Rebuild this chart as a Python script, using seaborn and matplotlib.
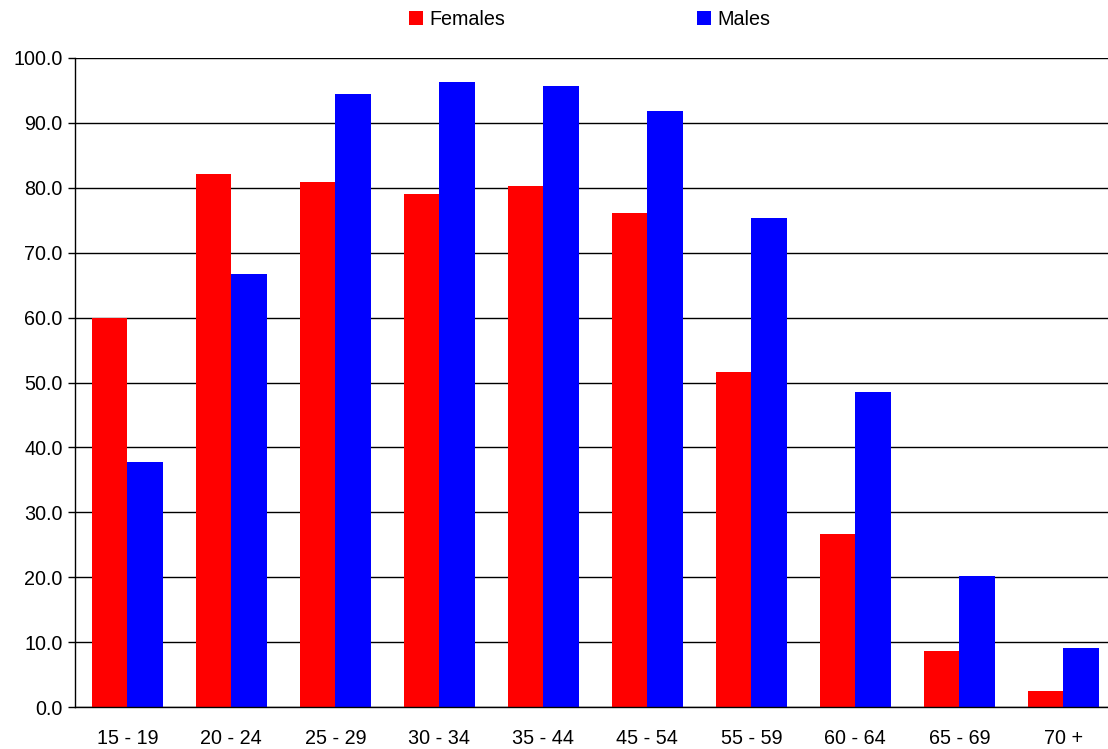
import matplotlib
matplotlib.use("Agg")
import matplotlib.pyplot as plt
import seaborn as sns
import pandas as pd
import numpy as np

age_groups = ["15 - 19", "20 - 24", "25 - 29", "30 - 34", "35 - 44",
              "45 - 54", "55 - 59", "60 - 64", "65 - 69", "70 +"]
females = [60.0, 82.1, 80.9, 79.0, 80.3, 76.1, 51.6, 26.7, 8.6, 2.5]
males = [37.8, 66.7, 94.5, 96.3, 95.7, 91.8, 75.3, 48.5, 20.2, 9.1]
series = ["Females", "Males"]
colors = ["#ff0000", "#0000ff"]

df = pd.DataFrame({
    "Age": age_groups * 2,
    "Rate": females + males,
    "Sex": [series[0]] * len(age_groups) + [series[1]] * len(age_groups),
})

sns.set_style("white")
plt.rcParams["font.family"] = ["Liberation Sans", "DejaVu Sans"]
plt.rcParams["text.color"] = "black"
plt.rcParams["xtick.color"] = "black"
plt.rcParams["ytick.color"] = "black"
plt.rcParams["axes.labelcolor"] = "black"

FS = 14.2

fig = plt.figure(figsize=(11.08, 7.49), dpi=100)
# the plot area runs slightly past the right edge of the canvas
ax = fig.add_axes([0.068, 0.056, 0.9386, 0.8666])

sns.barplot(data=df, x="Age", y="Rate", hue="Sex", order=age_groups,
            hue_order=series, palette=colors, width=0.68, saturation=1,
            linewidth=0, ax=ax, legend=True)

ax.set_ylim(0, 100)
ax.set_xlim(-0.5, len(age_groups) - 0.5)
ax.set_yticks(np.arange(0, 101, 10))
ax.set_yticklabels([f"{v:.1f}" for v in np.arange(0, 101, 10)])
ax.yaxis.grid(True, color="black", linewidth=1.0)
ax.set_axisbelow(True)
ax.set_xlabel("")
ax.set_ylabel("")

# category boundary ticks on the x axis
ax.set_xticks(np.arange(-0.5, len(age_groups), 1.0), minor=True)
ax.tick_params(axis="x", which="major", length=0, pad=16, labelsize=FS,
               labelcolor="black")
ax.tick_params(axis="x", which="minor", length=5, width=1, color="black", direction="out")
ax.tick_params(axis="y", length=5, width=1, color="black", direction="out",
               left=True, labelsize=FS, pad=4, labelcolor="black")

for side in ["top", "right"]:
    ax.spines[side].set_visible(False)
for side in ["left", "bottom"]:
    ax.spines[side].set_color("black")
    ax.spines[side].set_linewidth(1.0)

handles, labels = ax.get_legend_handles_labels()
leg = ax.legend(handles, labels, loc="center", bbox_to_anchor=(0.4945, 1.059),
                ncol=2, frameon=False, fontsize=FS, columnspacing=9.75,
                handlelength=0.72, handleheight=0.72, handletextpad=0.3)
for t in leg.get_texts():
    t.set_color("black")

fig.savefig("out.png", dpi=100)
